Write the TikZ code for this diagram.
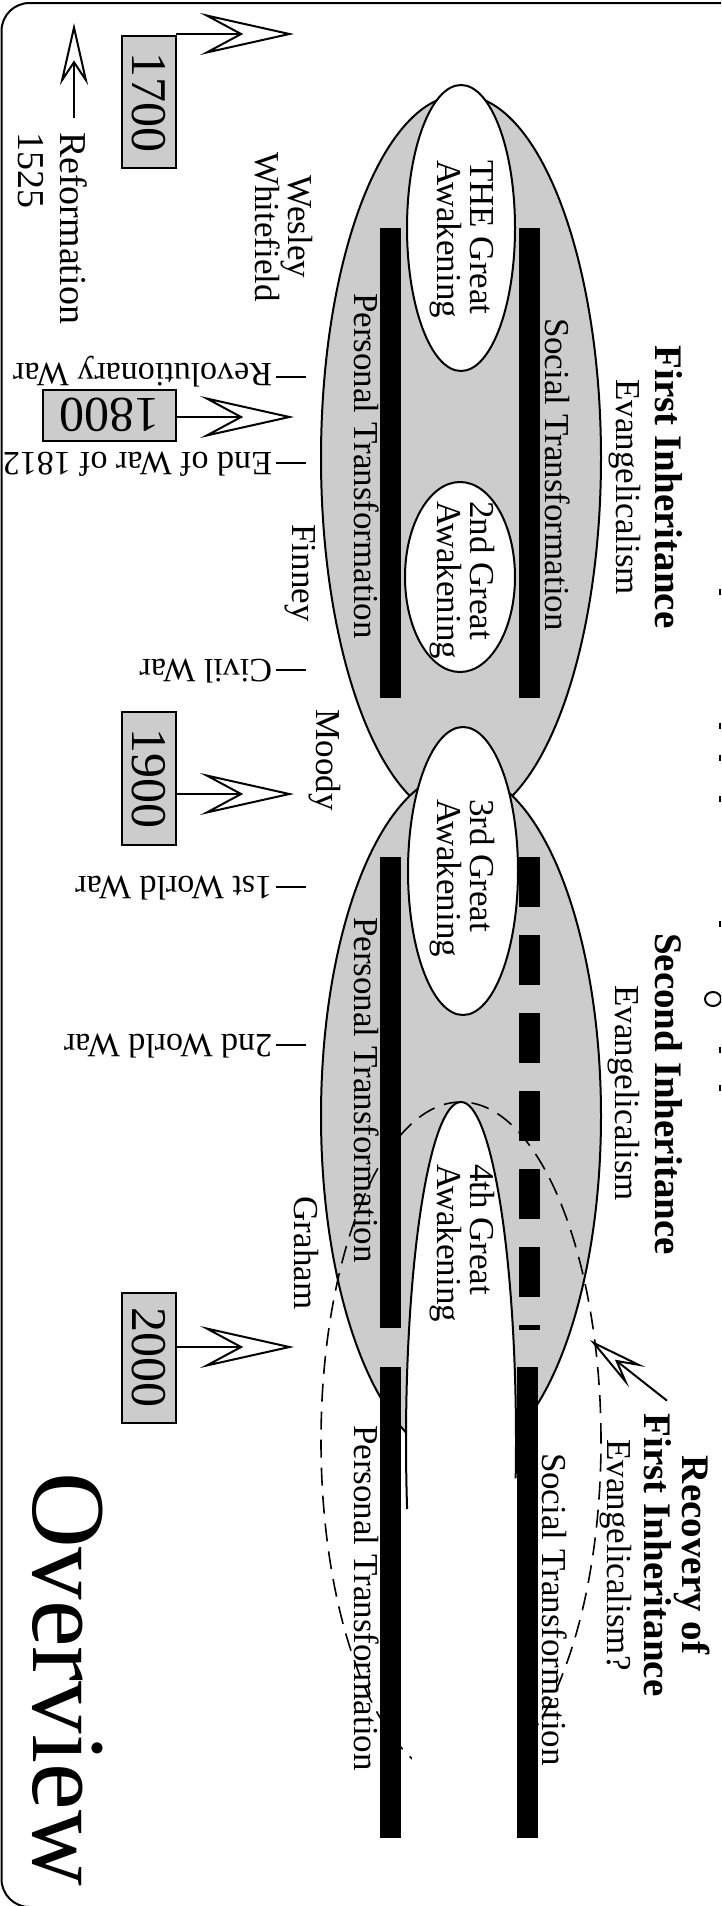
\documentclass[tikz,border=0pt]{standalone}
\usepackage{fontspec}
\setmainfont{Liberation Serif}
\usetikzlibrary{arrows.meta}
\begin{document}
\begin{tikzpicture}[x=1pt,y=-1pt,
  every node/.style={inner sep=0pt,outer sep=0pt},
  body/.style={font=\fontsize{35}{36}\selectfont},
  warstyle/.style={font=\fontsize{34}{35}\selectfont},
  refstyle/.style={font=\fontsize{38}{40}\selectfont},
  head/.style={font=\fontsize{39}{40}\selectfont\bfseries},
  down/.style={rotate=-90},
  flip/.style={rotate=180},
  grayell/.style={fill=gray!40,draw=black,line width=2pt},
  whiteell/.style={fill=white,draw=black,line width=2pt},
  recell/.style={draw=black,line width=1.6pt,dash pattern=on 18pt off 10pt},
  barline/.style={line width=21pt},
  yearbox/.style={draw=black,fill=gray!40,line width=2pt,font=\fontsize{50}{50}\selectfont},
  bigarrow/.style={line width=2pt,-{Stealth[length=94pt,width=42pt,inset=39pt,fill=white]}},
  warmark/.style={line width=2pt},
  frame/.style={line width=2pt,rounded corners=28pt},
]
\useasboundingbox (0,0) rectangle (721,1906);
\begin{scope}
\clip (0,0) rectangle (721,1906);
% frame
\draw[frame] (1.5,3) rectangle (790,1907);

% gray inheritance ellipses
\path[grayell] (461,458) ellipse [x radius=140pt,y radius=363pt];
\path[grayell] (461,1116) ellipse [x radius=140pt,y radius=344pt];
% dashed recovery ellipse
\path[recell] (461,1441) ellipse [x radius=140pt,y radius=339pt];
% awakenings
\path[whiteell] (461,228) ellipse [x radius=54pt,y radius=143pt];
\path[whiteell] (460,577) ellipse [x radius=55pt,y radius=95pt];
\path[whiteell] (463,871) ellipse [x radius=55pt,y radius=144pt];
\path[whiteell] (461,1441) ellipse [x radius=55pt,y radius=339pt];
\fill[white] (404,1510) -- (517,1478) -- (517,1795) -- (412,1795) -- (412,1752) -- (404,1745) -- cycle;

% bars
\draw[barline] (390,228) -- (390,698);
\draw[barline] (529,228) -- (529,698);
\draw[barline] (390.5,857) -- (390.5,1328);
\draw[barline,dash pattern=on 50pt off 28pt] (529,857) -- (529,1330);
\draw[barline] (390.5,1367) -- (390.5,1838);
\draw[barline] (527,1367) -- (527,1838);

% year boxes and arrows
\node[yearbox,minimum width=54pt,minimum height=132pt] (b1700) at (149,102) {\rotatebox{-90}{1700}};
\node[yearbox,minimum width=133pt,minimum height=51pt] (b1800) at (109.5,415) {\rotatebox{180}{1800}};
\node[yearbox,minimum width=54pt,minimum height=133pt] (b1900) at (149,778.5) {\rotatebox{-90}{1900}};
\node[yearbox,minimum width=54pt,minimum height=130pt] (b2000) at (149,1357.5) {\rotatebox{-90}{2000}};
\coordinate (t1700) at (294,34);
\coordinate (t1800) at (294,417);
\coordinate (t1900) at (294,794);
\coordinate (t2000) at (294,1347);
\draw[bigarrow] (b1700.east |- t1700) -- (t1700);
\draw[bigarrow] (b1800.east |- t1800) -- (t1800);
\draw[bigarrow] (b1900.east |- t1900) -- (t1900);
\draw[bigarrow] (b2000.east |- t2000) -- (t2000);

% reformation
\node[refstyle,down,anchor=base west] (ref) at (60,132) {Reformation};
\node[refstyle,down,anchor=base west] (y1525) at (19,132) {1525};
\coordinate (reftip) at (74,23);
\draw[line width=2pt,-{Stealth[length=62pt,width=28pt,inset=21pt,fill=white]}] ([shift={(14,-14)}]ref.base west) -- (reftip);

% wars
\node[warstyle,flip,anchor=base west] (rev) at (272,363) {Revolutionary War};
\node[warstyle,flip,anchor=base west] (e1812) at (272,452) {End of War of 1812};
\node[warstyle,flip,anchor=base west] (civil) at (272,659) {Civil War};
\node[warstyle,flip,anchor=base west] (ww1) at (272,876) {1st World War};
\node[warstyle,flip,anchor=base west] (ww2) at (272,1034) {2nd World War};
\draw[warmark] ([shift={(4,14)}]rev.base west) -- ++(30,0);
\draw[warmark] ([shift={(4,11)}]e1812.base west) -- ++(30,0);
\draw[warmark] ([shift={(4,11)}]civil.base west) -- ++(30,0);
\draw[warmark] ([shift={(4,11)}]ww1.base west) -- ++(30,0);
\draw[warmark] ([shift={(4,11)}]ww2.base west) -- ++(30,0);

% people
\node[body,down,anchor=base] (wesley) at (288,227) {Wesley};
\node[body,down,anchor=base] (whitefield) at (255,227) {Whitefield};
\node[body,down,anchor=base] (finney) at (292,573) {Finney};
\node[body,down,anchor=base] (moody) at (316,760) {Moody};
\node[body,down,anchor=base] (graham) at (294,1253) {Graham};

% awakening labels
\node[body,down,anchor=base west] (g1a) at (470,160) {THE Great};
\node[body,down,anchor=base west] (g1b) at (437,160) {Awakening};
\node[body,down,anchor=base west] (g2a) at (470,501) {2nd Great};
\node[body,down,anchor=base west] (g2b) at (437,501) {Awakening};
\node[body,down,anchor=base west] (g3a) at (470,799) {3rd Great};
\node[body,down,anchor=base west] (g3b) at (437,799) {Awakening};
\node[body,down,anchor=base west] (g4a) at (470,1164) {4th Great};
\node[body,down,anchor=base west] (g4b) at (437,1164) {Awakening};

% transformation labels
\node[body,down,anchor=base west] (pt1) at (354,293) {Personal Transformation};
\node[body,down,anchor=base west] (st1) at (545,318) {Social Transformation};
\node[body,down,anchor=base west] (pt2) at (354,917) {Personal Transformation};
\node[body,down,anchor=base west] (pt3) at (354,1425) {Personal Transformation};
\node[body,down,anchor=base west] (st3) at (542,1453) {Social Transformation};

% inheritance headings
\node[head,down,anchor=base] (fi1) at (655,487) {First Inheritance};
\node[body,down,anchor=base] (ev1) at (616,487) {Evangelicalism};
\node[head,down,anchor=base] (si) at (655,1094) {Second Inheritance};
\node[body,down,anchor=base] (ev2) at (615,1093) {Evangelicalism};
\node[head,down,anchor=base] (rec1) at (682,1555) {Recovery of};
\node[head,down,anchor=base] (rec2) at (644,1555) {First Inheritance};
\node[body,down,anchor=base] (rec3) at (607,1555) {Evangelicalism?};
\coordinate (rectip) at (590,1340);
\draw[line width=2pt,-{Stealth[length=60pt,width=26pt,inset=24pt,fill=white]}] ([shift={(23,-13)}]rec2.base west) -- (rectip);

% title
\node[font=\fontsize{105}{105}\selectfont,down,anchor=base] (ov) at (33,1679) {Overview};

% bits of the clipped heading at the right edge
\draw[line width=2pt] (713,999) ellipse [x radius=8pt,y radius=7pt];
\foreach \yy in {592,726,758,799,924,1050,1088}
  \draw[line width=1.5pt] (720,\yy-3) -- (720,\yy+3);
\end{scope}
\end{tikzpicture}
\end{document}
